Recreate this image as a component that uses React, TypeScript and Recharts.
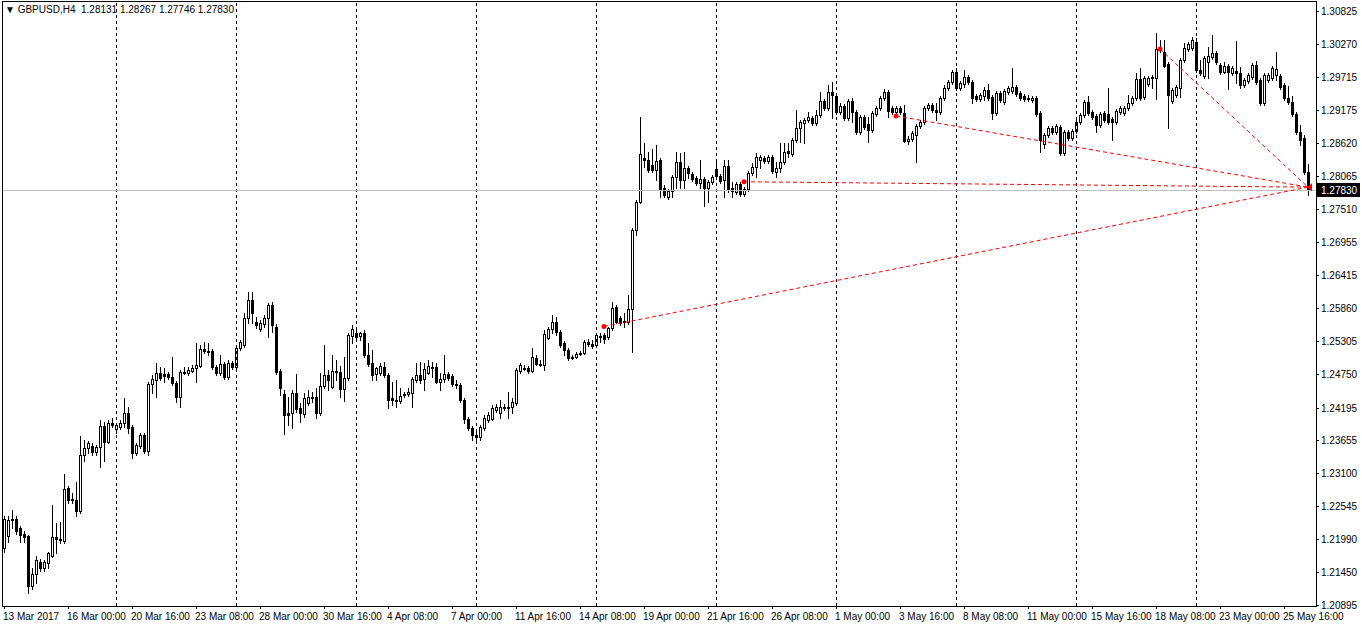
import React from 'react';
import { ComposedChart, Bar, XAxis, YAxis, ReferenceLine, ReferenceDot } from 'recharts';

// GBPUSD H4
const opens = [
  1.2184, 1.2204, 1.2231, 1.2234, 1.2218, 1.2209, 1.2204, 1.2122, 1.2142, 1.2162,
  1.2152, 1.2159, 1.2172, 1.2203, 1.2199, 1.2196, 1.2285, 1.2266, 1.2265, 1.2246,
  1.2340, 1.2352, 1.2355, 1.2345, 1.2353, 1.2388, 1.2362, 1.2393, 1.2383, 1.2387,
  1.2393, 1.2410, 1.2387, 1.2343, 1.2355, 1.2373, 1.2347, 1.2459, 1.2465, 1.2477,
  1.2475, 1.2475, 1.2470, 1.2460, 1.2437, 1.2479, 1.2477, 1.2480, 1.2485, 1.2489,
  1.2517, 1.2514, 1.2514, 1.2487, 1.2477, 1.2492, 1.2470, 1.2494, 1.2487, 1.2519,
  1.2524, 1.2569, 1.2599, 1.2562, 1.2551, 1.2559, 1.2569, 1.2591, 1.2555, 1.2480,
  1.2442, 1.2410, 1.2410, 1.2444, 1.2418, 1.2408, 1.2427, 1.2437, 1.2437, 1.2410,
  1.2455, 1.2474, 1.2454, 1.2480, 1.2479, 1.2450, 1.2469, 1.2539, 1.2544, 1.2539,
  1.2544, 1.2507, 1.2494, 1.2475, 1.2477, 1.2487, 1.2474, 1.2435, 1.2432, 1.2430,
  1.2440, 1.2442, 1.2444, 1.2465, 1.2474, 1.2467, 1.2477, 1.2487, 1.2487, 1.2462,
  1.2467, 1.2475, 1.2472, 1.2459, 1.2457, 1.2432, 1.2400, 1.2385, 1.2373, 1.2370,
  1.2385, 1.2398, 1.2400, 1.2415, 1.2410, 1.2420, 1.2418, 1.2420, 1.2427, 1.2480,
  1.2485, 1.2485, 1.2480, 1.2502, 1.2492, 1.2490, 1.2536, 1.2551, 1.2562, 1.2546,
  1.2527, 1.2516, 1.2504, 1.2504, 1.2509, 1.2511, 1.2529, 1.2526, 1.2524, 1.2537,
  1.2541, 1.2537, 1.2552, 1.2587, 1.2569, 1.2562, 1.2562, 1.2584, 1.2716, 1.2763,
  1.2837, 1.2833, 1.2825, 1.2817, 1.2833, 1.2786, 1.2771, 1.2781, 1.2805, 1.2830,
  1.2800, 1.2820, 1.2810, 1.2803, 1.2795, 1.2802, 1.2786, 1.2797, 1.2818, 1.2807,
  1.2800, 1.2823, 1.2786, 1.2780, 1.2793, 1.2776, 1.2785, 1.2812, 1.2822, 1.2833,
  1.2837, 1.2832, 1.2838, 1.2813, 1.2820, 1.2830, 1.2848, 1.2843, 1.2867, 1.2887,
  1.2895, 1.2900, 1.2904, 1.2895, 1.2909, 1.2932, 1.2920, 1.2947, 1.2940, 1.2914,
  1.2924, 1.2904, 1.2932, 1.2914, 1.2880, 1.2905, 1.2894, 1.2884, 1.2910, 1.2920,
  1.2937, 1.2947, 1.2920, 1.2914, 1.2920, 1.2912, 1.2865, 1.2868, 1.2875, 1.2890,
  1.2897, 1.2920, 1.2925, 1.2917, 1.2914, 1.2937, 1.2954, 1.2964, 1.2981, 1.2954,
  1.2960, 1.2972, 1.2964, 1.2940, 1.2935, 1.2940, 1.2950, 1.2939, 1.2912, 1.2945,
  1.2930, 1.2947, 1.2949, 1.2955, 1.2945, 1.2940, 1.2937, 1.2934, 1.2937, 1.2912,
  1.2860, 1.2875, 1.2887, 1.2880, 1.2889, 1.2845, 1.2880, 1.2870, 1.2882, 1.2897,
  1.2909, 1.2930, 1.2914, 1.2907, 1.2892, 1.2912, 1.2910, 1.2902, 1.2897, 1.2914,
  1.2912, 1.2920, 1.2929, 1.2937, 1.2969, 1.2939, 1.2960, 1.2971, 1.2971, 1.3017,
  1.3014, 1.2994, 1.2932, 1.2942, 1.2954, 1.3001, 1.3019, 1.3021, 1.3031, 1.2984,
  1.2974, 1.2997, 1.3006, 1.3012, 1.2992, 1.2981, 1.2991, 1.2979, 1.2982, 1.2979,
  1.2959, 1.2966, 1.2972, 1.2992, 1.2967, 1.2929, 1.2967, 1.2971, 1.2976, 1.2974,
  1.2959, 1.2937, 1.2930, 1.2910, 1.2880, 1.2870, 1.28131,
];

const highs = [
  1.2238, 1.2239, 1.2249, 1.2238, 1.2221, 1.2214, 1.2206, 1.2151, 1.2171, 1.2167,
  1.2164, 1.2178, 1.2256, 1.2226, 1.2228, 1.2308, 1.2288, 1.2276, 1.2295, 1.2372,
  1.2365, 1.2363, 1.2360, 1.2357, 1.2398, 1.2395, 1.2398, 1.2402, 1.2393, 1.2398,
  1.2435, 1.2420, 1.2390, 1.2360, 1.2377, 1.2377, 1.2462, 1.2474, 1.2494, 1.2487,
  1.2485, 1.2479, 1.2504, 1.2464, 1.2482, 1.2487, 1.2487, 1.2490, 1.2527, 1.2524,
  1.2529, 1.2527, 1.2517, 1.2490, 1.2507, 1.2495, 1.2499, 1.2497, 1.2522, 1.2532,
  1.2577, 1.2613, 1.2613, 1.2571, 1.2566, 1.2574, 1.2594, 1.2596, 1.2559, 1.2484,
  1.2449, 1.2437, 1.2449, 1.2475, 1.2427, 1.2444, 1.2449, 1.2445, 1.2452, 1.2477,
  1.2524, 1.2482, 1.2507, 1.2499, 1.2489, 1.2504, 1.2544, 1.2557, 1.2549, 1.2546,
  1.2549, 1.2527, 1.2516, 1.2487, 1.2494, 1.2495, 1.2477, 1.2462, 1.2465, 1.2452,
  1.2445, 1.2452, 1.2470, 1.2494, 1.2495, 1.2494, 1.2499, 1.2495, 1.2494, 1.2477,
  1.2507, 1.2479, 1.2475, 1.2465, 1.2460, 1.2435, 1.2403, 1.2388, 1.2382, 1.2390,
  1.2407, 1.2412, 1.2423, 1.2425, 1.2432, 1.2425, 1.2445, 1.2435, 1.2485, 1.2494,
  1.2490, 1.2489, 1.2519, 1.2507, 1.2499, 1.2549, 1.2554, 1.2574, 1.2571, 1.2549,
  1.2531, 1.2519, 1.2507, 1.2512, 1.2514, 1.2532, 1.2534, 1.2532, 1.2544, 1.2544,
  1.2544, 1.2555, 1.2596, 1.2591, 1.2572, 1.2577, 1.2607, 1.2720, 1.2766, 1.2905,
  1.2862, 1.2847, 1.2852, 1.2858, 1.2837, 1.2792, 1.2785, 1.2808, 1.2847, 1.2845,
  1.2847, 1.2823, 1.2813, 1.2807, 1.2833, 1.2805, 1.2800, 1.2808, 1.2830, 1.2810,
  1.2833, 1.2833, 1.2797, 1.2797, 1.2797, 1.2788, 1.2815, 1.2828, 1.2845, 1.2842,
  1.2840, 1.2842, 1.2842, 1.2830, 1.2862, 1.2862, 1.2862, 1.2870, 1.2917, 1.2900,
  1.2904, 1.2914, 1.2907, 1.2917, 1.2947, 1.2935, 1.2959, 1.2964, 1.2944, 1.2929,
  1.2927, 1.2935, 1.2937, 1.2917, 1.2909, 1.2909, 1.2905, 1.2915, 1.2924, 1.2940,
  1.2952, 1.2950, 1.2924, 1.2924, 1.2924, 1.2925, 1.2873, 1.2882, 1.2894, 1.2900,
  1.2924, 1.2929, 1.2929, 1.2929, 1.2940, 1.2959, 1.2967, 1.2984, 1.2987, 1.2966,
  1.2984, 1.2976, 1.2967, 1.2944, 1.2945, 1.2955, 1.2960, 1.2942, 1.2949, 1.2949,
  1.2952, 1.2957, 1.2987, 1.2959, 1.2949, 1.2944, 1.2942, 1.2940, 1.2940, 1.2915,
  1.2879, 1.2890, 1.2890, 1.2894, 1.2892, 1.2884, 1.2884, 1.2885, 1.2902, 1.2912,
  1.2934, 1.2940, 1.2917, 1.2910, 1.2914, 1.2915, 1.2954, 1.2905, 1.2919, 1.2924,
  1.2924, 1.2942, 1.2940, 1.2979, 1.2987, 1.2974, 1.2974, 1.2976, 1.3046, 1.3034,
  1.3034, 1.2997, 1.2954, 1.2959, 1.3004, 1.3029, 1.3031, 1.3039, 1.3037, 1.3001,
  1.3007, 1.3022, 1.3042, 1.3016, 1.2996, 1.2997, 1.2994, 1.2991, 1.3032, 1.2989,
  1.2971, 1.2979, 1.2996, 1.2999, 1.2971, 1.2979, 1.2979, 1.2991, 1.3014, 1.2977,
  1.2962, 1.2957, 1.2940, 1.2914, 1.2892, 1.2875, 1.28267,
];

const lows = [
  1.2178, 1.2194, 1.2219, 1.2209, 1.2194, 1.2194, 1.2109, 1.2117, 1.2126, 1.2147,
  1.2147, 1.2152, 1.2169, 1.2176, 1.2193, 1.2193, 1.2260, 1.2260, 1.2239, 1.2244,
  1.2331, 1.2343, 1.2340, 1.2340, 1.2321, 1.2331, 1.2360, 1.2387, 1.2377, 1.2383,
  1.2387, 1.2377, 1.2335, 1.2340, 1.2352, 1.2343, 1.2340, 1.2444, 1.2437, 1.2465,
  1.2462, 1.2467, 1.2457, 1.2429, 1.2420, 1.2475, 1.2474, 1.2479, 1.2462, 1.2487,
  1.2511, 1.2507, 1.2484, 1.2474, 1.2474, 1.2467, 1.2467, 1.2484, 1.2484, 1.2516,
  1.2521, 1.2561, 1.2561, 1.2552, 1.2547, 1.2555, 1.2537, 1.2546, 1.2475, 1.2440,
  1.2375, 1.2390, 1.2385, 1.2412, 1.2395, 1.2403, 1.2423, 1.2429, 1.2402, 1.2407,
  1.2452, 1.2449, 1.2452, 1.2465, 1.2437, 1.2430, 1.2465, 1.2527, 1.2534, 1.2532,
  1.2504, 1.2489, 1.2465, 1.2465, 1.2474, 1.2470, 1.2418, 1.2423, 1.2420, 1.2427,
  1.2437, 1.2439, 1.2420, 1.2462, 1.2460, 1.2449, 1.2475, 1.2470, 1.2460, 1.2449,
  1.2462, 1.2465, 1.2455, 1.2452, 1.2429, 1.2393, 1.2382, 1.2365, 1.2363, 1.2365,
  1.2382, 1.2395, 1.2398, 1.2412, 1.2402, 1.2415, 1.2402, 1.2410, 1.2423, 1.2477,
  1.2482, 1.2477, 1.2479, 1.2490, 1.2489, 1.2482, 1.2534, 1.2544, 1.2541, 1.2521,
  1.2507, 1.2499, 1.2500, 1.2502, 1.2507, 1.2509, 1.2522, 1.2519, 1.2521, 1.2529,
  1.2527, 1.2534, 1.2549, 1.2561, 1.2557, 1.2554, 1.2559, 1.2512, 1.2708, 1.2762,
  1.2822, 1.2813, 1.2813, 1.2800, 1.2771, 1.2771, 1.2768, 1.2771, 1.2786, 1.2786,
  1.2786, 1.2803, 1.2798, 1.2792, 1.2786, 1.2757, 1.2763, 1.2793, 1.2803, 1.2795,
  1.2771, 1.2780, 1.2771, 1.2776, 1.2773, 1.2773, 1.2781, 1.2808, 1.2805, 1.2820,
  1.2828, 1.2828, 1.2812, 1.2805, 1.2813, 1.2827, 1.2838, 1.2840, 1.2863, 1.2863,
  1.2862, 1.2897, 1.2892, 1.2892, 1.2905, 1.2917, 1.2917, 1.2904, 1.2910, 1.2910,
  1.2900, 1.2900, 1.2897, 1.2877, 1.2877, 1.2885, 1.2863, 1.2880, 1.2907, 1.2917,
  1.2934, 1.2905, 1.2910, 1.2910, 1.2910, 1.2863, 1.2860, 1.2865, 1.2830, 1.2887,
  1.2894, 1.2917, 1.2914, 1.2900, 1.2910, 1.2934, 1.2950, 1.2960, 1.2950, 1.2950,
  1.2955, 1.2960, 1.2929, 1.2932, 1.2932, 1.2934, 1.2934, 1.2902, 1.2909, 1.2930,
  1.2927, 1.2944, 1.2945, 1.2940, 1.2934, 1.2932, 1.2932, 1.2930, 1.2907, 1.2847,
  1.2853, 1.2872, 1.2877, 1.2877, 1.2842, 1.2842, 1.2867, 1.2867, 1.2879, 1.2894,
  1.2905, 1.2909, 1.2902, 1.2880, 1.2889, 1.2897, 1.2894, 1.2867, 1.2894, 1.2910,
  1.2909, 1.2917, 1.2925, 1.2934, 1.2934, 1.2935, 1.2957, 1.2954, 1.2935, 1.3014,
  1.2989, 1.2887, 1.2929, 1.2939, 1.2939, 1.2997, 1.3016, 1.3017, 1.2981, 1.2976,
  1.2971, 1.2971, 1.3002, 1.2994, 1.2977, 1.2979, 1.2952, 1.2976, 1.2962, 1.2954,
  1.2955, 1.2962, 1.2969, 1.2960, 1.2925, 1.2925, 1.2964, 1.2967, 1.2967, 1.2952,
  1.2934, 1.2927, 1.2907, 1.2877, 1.2858, 1.2810, 1.27746,
];

const closes = [
  1.2233, 1.2231, 1.2234, 1.2214, 1.2206, 1.2203, 1.2122, 1.2142, 1.2164, 1.2152,
  1.2161, 1.2176, 1.2203, 1.2199, 1.2198, 1.2283, 1.2265, 1.2265, 1.2246, 1.2340,
  1.2352, 1.2360, 1.2345, 1.2353, 1.2388, 1.2362, 1.2393, 1.2390, 1.2390, 1.2393,
  1.2410, 1.2385, 1.2343, 1.2357, 1.2373, 1.2347, 1.2459, 1.2467, 1.2477, 1.2469,
  1.2472, 1.2470, 1.2460, 1.2437, 1.2479, 1.2477, 1.2482, 1.2485, 1.2490, 1.2517,
  1.2514, 1.2512, 1.2487, 1.2477, 1.2492, 1.2470, 1.2494, 1.2487, 1.2519, 1.2529,
  1.2569, 1.2599, 1.2577, 1.2557, 1.2561, 1.2569, 1.2591, 1.2557, 1.2479, 1.2452,
  1.2407, 1.2407, 1.2444, 1.2417, 1.2410, 1.2435, 1.2437, 1.2435, 1.2410, 1.2455,
  1.2474, 1.2465, 1.2480, 1.2479, 1.2450, 1.2469, 1.2541, 1.2551, 1.2537, 1.2544,
  1.2507, 1.2492, 1.2474, 1.2485, 1.2489, 1.2474, 1.2432, 1.2432, 1.2430, 1.2439,
  1.2442, 1.2445, 1.2467, 1.2474, 1.2465, 1.2484, 1.2489, 1.2485, 1.2462, 1.2467,
  1.2475, 1.2469, 1.2459, 1.2457, 1.2432, 1.2400, 1.2385, 1.2373, 1.2370, 1.2387,
  1.2402, 1.2407, 1.2418, 1.2420, 1.2420, 1.2418, 1.2420, 1.2429, 1.2482, 1.2490,
  1.2484, 1.2480, 1.2504, 1.2492, 1.2490, 1.2542, 1.2551, 1.2562, 1.2546, 1.2524,
  1.2516, 1.2502, 1.2502, 1.2509, 1.2511, 1.2529, 1.2526, 1.2522, 1.2541, 1.2539,
  1.2534, 1.2552, 1.2586, 1.2562, 1.2561, 1.2564, 1.2584, 1.2716, 1.2763, 1.2843,
  1.2833, 1.2817, 1.2817, 1.2832, 1.2785, 1.2775, 1.2781, 1.2805, 1.2830, 1.2800,
  1.2820, 1.2812, 1.2802, 1.2795, 1.2802, 1.2786, 1.2797, 1.2805, 1.2807, 1.2798,
  1.2823, 1.2783, 1.2781, 1.2793, 1.2776, 1.2785, 1.2812, 1.2822, 1.2838, 1.2838,
  1.2832, 1.2838, 1.2815, 1.2820, 1.2830, 1.2847, 1.2845, 1.2867, 1.2887, 1.2897,
  1.2900, 1.2905, 1.2895, 1.2909, 1.2932, 1.2920, 1.2947, 1.2942, 1.2914, 1.2924,
  1.2904, 1.2932, 1.2914, 1.2880, 1.2905, 1.2889, 1.2884, 1.2912, 1.2920, 1.2937,
  1.2947, 1.2915, 1.2914, 1.2920, 1.2914, 1.2865, 1.2868, 1.2879, 1.2890, 1.2897,
  1.2920, 1.2925, 1.2917, 1.2914, 1.2937, 1.2954, 1.2964, 1.2981, 1.2954, 1.2962,
  1.2972, 1.2964, 1.2937, 1.2935, 1.2942, 1.2950, 1.2937, 1.2912, 1.2945, 1.2934,
  1.2949, 1.2954, 1.2955, 1.2944, 1.2937, 1.2935, 1.2935, 1.2937, 1.2910, 1.2867,
  1.2875, 1.2887, 1.2880, 1.2890, 1.2845, 1.2880, 1.2870, 1.2882, 1.2897, 1.2909,
  1.2930, 1.2912, 1.2905, 1.2892, 1.2910, 1.2900, 1.2897, 1.2897, 1.2915, 1.2920,
  1.2920, 1.2929, 1.2937, 1.2969, 1.2937, 1.2971, 1.2971, 1.2972, 1.3019, 1.3021,
  1.2991, 1.2942, 1.2950, 1.2955, 1.3001, 1.3021, 1.3027, 1.3034, 1.2984, 1.2979,
  1.3004, 1.3007, 1.3012, 1.2997, 1.2981, 1.2991, 1.2981, 1.2987, 1.2979, 1.2959,
  1.2967, 1.2976, 1.2992, 1.2964, 1.2929, 1.2976, 1.2976, 1.2987, 1.2986, 1.2955,
  1.2937, 1.2930, 1.2910, 1.2880, 1.2867, 1.2813, 1.27830,
];

const timeLabels = [
  '13 Mar 2017', '16 Mar 00:00', '20 Mar 16:00', '23 Mar 08:00', '28 Mar 00:00',
  '30 Mar 16:00', '4 Apr 08:00', '7 Apr 00:00', '11 Apr 16:00', '14 Apr 08:00',
  '19 Apr 00:00', '21 Apr 16:00', '26 Apr 08:00', '1 May 00:00', '3 May 16:00',
  '8 May 08:00', '11 May 00:00', '15 May 16:00', '18 May 08:00', '23 May 00:00',
  '25 May 16:00',
];
const BARS_PER_LABEL = 16;

// bars that open a new week (Monday 00:00)
const weekStarts = [28, 58, 88, 118, 148, 178, 208, 238, 268, 298];

const priceTicks = [
  1.20895, 1.2145, 1.2199, 1.22545, 1.231, 1.23655, 1.24195, 1.2475, 1.25305, 1.2586,
  1.26415, 1.26955, 1.2751, 1.28065, 1.2862, 1.29175, 1.29715, 1.3027, 1.30825,
];

const lastPrice = 1.2783;

// red dashed trend lines, all ending on the last bar
const trendStarts = [
  { bar: 150, price: 1.2555 },
  { bar: 185, price: 1.2797 },
  { bar: 223, price: 1.2907 },
  { bar: 289, price: 1.3019 },
];
const trendEnd = { bar: 326, price: 1.2788 };

const candles = opens.map((open, i) => ({
  i,
  open,
  high: highs[i],
  low: lows[i],
  close: closes[i],
  range: [lows[i], highs[i]],
}));

const FONT = '"Liberation Sans", Arial, sans-serif';

function Candle(props: any) {
  const { x, y, width, height, payload } = props;
  if (!payload || x == null) return null;
  const { open, close, high, low } = payload;
  const top = height >= 0 ? y : y + height;
  const h = Math.abs(height);
  const span = high - low || 1e-9;
  const py = (v: number) => top + ((high - v) / span) * h;
  const cx = Math.floor(x + width / 2);
  const wTop = Math.round(top);
  const wBot = Math.round(top + h);
  const o = Math.round(py(open));
  const c = Math.round(py(close));
  const bTop = Math.min(o, c);
  const bBot = Math.max(o, c);
  const bull = close >= open;
  return (
    <g shapeRendering="crispEdges">
      <line x1={cx + 0.5} x2={cx + 0.5} y1={wTop} y2={wBot + 1} stroke="#000" />
      {bBot - bTop < 1 ? (
        <line x1={cx - 1} x2={cx + 2} y1={bTop + 0.5} y2={bTop + 0.5} stroke="#000" />
      ) : (
        <rect
          x={cx - 0.5}
          y={bTop + 0.5}
          width={2}
          height={bBot - bTop}
          fill={bull ? '#fff' : '#000'}
          stroke="#000"
        />
      )}
    </g>
  );
}

function TimeTick(props: any) {
  const { x, y, payload } = props;
  const label = timeLabels[Math.round(payload.value / BARS_PER_LABEL)];
  const tx = Math.round(x);
  return (
    <g>
      <line x1={tx + 0.5} x2={tx + 0.5} y1={y} y2={y + 3} stroke="#000" shapeRendering="crispEdges" />
      <text x={tx - 1} y={y + 14} textAnchor="start" fontSize={10} fontFamily={FONT} fill="#000">
        {label}
      </text>
    </g>
  );
}

function PriceTick(props: any) {
  const { x, y, payload } = props;
  const ty = Math.round(y);
  return (
    <g>
      <line x1={x} x2={x + 3} y1={ty + 0.5} y2={ty + 0.5} stroke="#000" shapeRendering="crispEdges" />
      <text x={x + 5} y={ty + 4} textAnchor="start" fontSize={10} fontFamily={FONT} fill="#000">
        {Number(payload.value).toFixed(5)}
      </text>
    </g>
  );
}

function PriceTag(props: any) {
  const vb = props.viewBox;
  if (!vb) return null;
  const x = vb.x + vb.width + 1;
  const y = Math.round(vb.y);
  return (
    <g>
      <rect x={x} y={y - 7} width={43} height={14} fill="#000" />
      <text x={x + 4} y={y + 4} fontSize={10} fontFamily={FONT} fill="#fff">
        {lastPrice.toFixed(5)}
      </text>
    </g>
  );
}

function EndArrow(props: any) {
  const { cx, cy } = props;
  return <path d={`M${cx + 4},${cy - 4} L${cx - 1},${cy} L${cx + 4},${cy + 4} Z`} fill="#ff0000" />;
}

export default function App() {
  return (
    <div style={{ position: 'absolute', left: 0, top: 0, width: 1362, height: 629, background: '#fff' }}>
      <ComposedChart
        width={1362}
        height={629}
        data={candles}
        margin={{ top: 1, right: 0, bottom: 0, left: 2 }}
        barCategoryGap={0}
      >
        <XAxis
          dataKey="i"
          type="category"
          height={23}
          padding={{ left: 0, right: 6 }}
          ticks={timeLabels.map((_, k) => k * BARS_PER_LABEL)}
          interval={0}
          tick={<TimeTick />}
          tickSize={0}
          tickMargin={0}
          tickLine={false}
          axisLine={false}
        />
        <YAxis
          orientation="right"
          type="number"
          width={46}
          domain={[1.20878, 1.30992]}
          allowDataOverflow
          ticks={priceTicks}
          interval={0}
          tick={<PriceTick />}
          tickSize={0}
          tickMargin={0}
          tickLine={false}
          axisLine={false}
        />
        {weekStarts.map((b) => (
          <ReferenceLine
            key={`wk-${b}`}
            x={b}
            stroke="#000"
            strokeDasharray="3 3"
            shapeRendering="crispEdges"
          />
        ))}
        <ReferenceLine y={lastPrice} stroke="#c0c0c0" shapeRendering="crispEdges" label={<PriceTag />} />
        <Bar dataKey="range" barSize={3} shape={<Candle />} isAnimationActive={false} />
        {trendStarts.map((s) => (
          <ReferenceLine
            key={`tr-${s.bar}`}
            segment={[
              { x: s.bar, y: s.price },
              { x: trendEnd.bar, y: trendEnd.price },
            ]}
            stroke="#ff0000"
            strokeDasharray="4 3"
            ifOverflow="visible"
          />
        ))}
        {trendStarts.map((s) => (
          <ReferenceDot
            key={`dot-${s.bar}`}
            x={s.bar}
            y={s.price}
            r={2.5}
            fill="#ff0000"
            stroke="none"
            ifOverflow="visible"
          />
        ))}
        <ReferenceDot x={trendEnd.bar} y={trendEnd.price} shape={<EndArrow />} ifOverflow="visible" />
      </ComposedChart>
      <div
        style={{
          position: 'absolute',
          left: 2,
          top: 1,
          width: 1315,
          height: 606,
          border: '1px solid #000',
          boxSizing: 'border-box',
          pointerEvents: 'none',
        }}
      />
      <div
        style={{
          position: 'absolute',
          left: 5,
          top: 4,
          fontFamily: FONT,
          fontSize: 10,
          lineHeight: '12px',
          color: '#000',
          whiteSpace: 'pre',
        }}
      >
        {'\u25BC GBPUSD,H4  1.28131 1.28267 1.27746 1.27830'}
      </div>
    </div>
  );
}
